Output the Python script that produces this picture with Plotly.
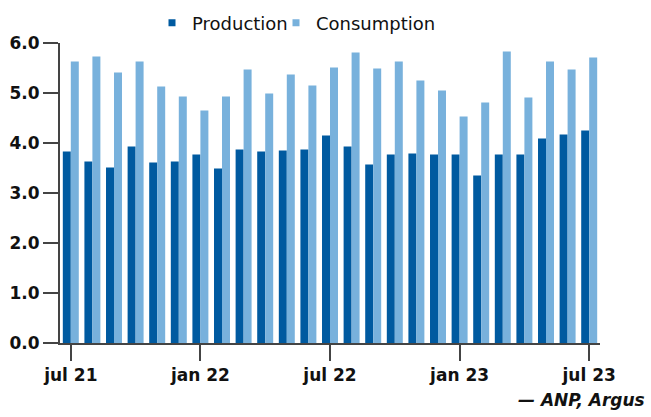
import plotly.graph_objects as go

months = ["jul 21", "aug 21", "sep 21", "oct 21", "nov 21", "dec 21",
          "jan 22", "feb 22", "mar 22", "apr 22", "may 22", "jun 22",
          "jul 22", "aug 22", "sep 22", "oct 22", "nov 22", "dec 22",
          "jan 23", "feb 23", "mar 23", "apr 23", "may 23", "jun 23", "jul 23"]
production = [3.83, 3.63, 3.51, 3.93, 3.61, 3.63, 3.77, 3.49, 3.87, 3.83, 3.85, 3.87,
              4.15, 3.93, 3.57, 3.77, 3.79, 3.77, 3.77, 3.35, 3.77, 3.77, 4.09, 4.17, 4.25]
consumption = [5.63, 5.73, 5.41, 5.63, 5.13, 4.93, 4.65, 4.93, 5.47, 4.99, 5.37, 5.15,
               5.51, 5.81, 5.49, 5.63, 5.25, 5.05, 4.53, 4.81, 5.83, 4.91, 5.63, 5.47, 5.71]
tick_labels = ["jul 21", "jan 22", "jul 22", "jan 23", "jul 23"]
y_ticks = [0, 1, 2, 3, 4, 5, 6]
source = "— ANP, Argus"

dark = "#005aa0"
light = "#78b1dc"
axis_col = "#444444"

fig = go.Figure()
fig.add_trace(go.Bar(x=months, y=production, name="Production", marker_color=dark,
                     marker_line_width=0, showlegend=False))
fig.add_trace(go.Bar(x=months, y=consumption, name="Consumption", marker_color=light,
                     marker_line_width=0, showlegend=False))
# legend entries with small square keys
fig.add_trace(go.Scatter(x=[None], y=[None], mode="markers", name="Production",
                         legendwidth=79,
                         marker=dict(symbol="square", size=7, color=dark)))
fig.add_trace(go.Scatter(x=[None], y=[None], mode="markers", name="Consumption",
                         legendwidth=130,
                         marker=dict(symbol="square", size=7, color=light)))

fig.update_layout(
    template="none",
    width=651, height=417,
    margin=dict(l=60, r=51, t=43, b=74, autoexpand=False),
    paper_bgcolor="white", plot_bgcolor="white",
    barmode="group", bargap=0.26, bargroupgap=0,
    font=dict(family="DejaVu Sans", color="#111111"),
    showlegend=True,
    legend=dict(orientation="h", xref="container", yref="container",
                x=(172 - 20) / 651, xanchor="left", y=1 - 23 / 417, yanchor="middle",
                font=dict(size=18, color="#111111"), itemwidth=30,
                bgcolor="rgba(0,0,0,0)", traceorder="normal"),
    xaxis=dict(type="category", tickmode="array", tickvals=tick_labels, ticktext=tick_labels,
               showline=True, linecolor=axis_col, linewidth=2, ticks="outside",
               ticklen=16, tickwidth=2, tickcolor=axis_col, showgrid=False, automargin=False,
               tickfont=dict(size=17, family="DejaVu Sans", weight="bold", color="#111111"),
               range=[-0.5, 24.5], fixedrange=True),
    yaxis=dict(range=[0, 6], tickmode="array", tickvals=y_ticks, tickformat=".1f",
               showline=True, linecolor=axis_col, linewidth=2, ticks="outside",
               ticklen=15, tickwidth=2, tickcolor=axis_col, showgrid=False, zeroline=False,
               automargin=False,
               tickfont=dict(size=17, family="DejaVu Sans", weight="bold", color="#111111"),
               fixedrange=True),
    annotations=[dict(text=source, xref="paper", yref="paper", x=1.087, y=-0.19,
                      xanchor="right", yanchor="middle", showarrow=False,
                      font=dict(size=17, family="DejaVu Sans", weight="bold", style="italic",
                                color="#111111"))],
)

fig.write_html("out.html", config={"displayModeBar": False},
               post_script="document.body.style.margin='0px';")
